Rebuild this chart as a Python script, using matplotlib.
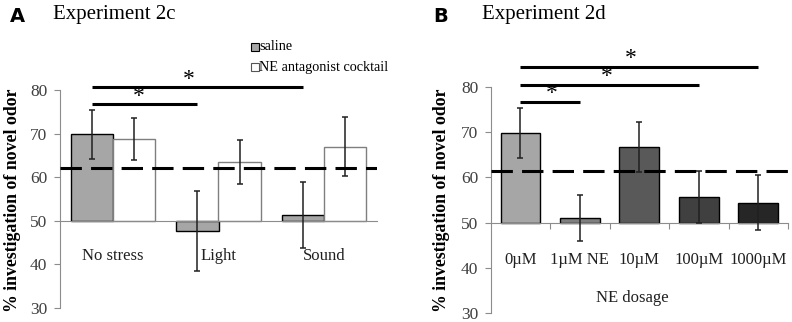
import numpy as np
import matplotlib
matplotlib.use("Agg")
import matplotlib.pyplot as plt
from matplotlib.patches import Rectangle

plt.rcParams['font.family'] = ['Liberation Serif', 'DejaVu Serif']

# Experiment 2c data
groups_a = ["No stress", "Light", "Sound"]
saline_mean = [69.8, 47.6, 51.3]
saline_err = [5.6, 9.2, 7.6]
ne_mean = [68.8, 63.5, 67.0]
ne_err = [4.8, 5.0, 6.7]
chance_a = 62.1
sig_a = [(-0.2, 1.8, 80.6), (-0.2, 0.8, 76.8)]

# Experiment 2d data
doses = ["0\u00b5M", "1\u00b5M NE", "10\u00b5M", "100\u00b5M", "1000\u00b5M"]
dose_mean = [69.8, 51.0, 66.8, 55.7, 54.4]
dose_err = [5.5, 5.1, 5.6, 5.8, 6.1]
dose_colors = ["#a6a6a6", "#7f7f7f", "#595959", "#404040", "#262626"]
chance_b = 61.4
sig_b = [(0, 4, 84.6), (0, 3, 80.4), (0, 1, 76.7)]

W, H = 792, 322
fig = plt.figure(figsize=(7.92, 3.22), dpi=100)

def px_axes(x0, x1, ytop, ybot):
    return fig.add_axes([x0 / W, 1 - ybot / H, (x1 - x0) / W, (ybot - ytop) / H])

def style_axis(ax):
    ax.set_ylim(30, 80)
    ax.set_yticks([30, 40, 50, 60, 70, 80])
    for s in ["top", "right"]:
        ax.spines[s].set_visible(False)
    ax.spines["left"].set_color("#8c8c8c")
    ax.spines["bottom"].set_color("#8c8c8c")
    ax.spines["bottom"].set_position(("data", 50))
    ax.patch.set_alpha(0)
    ax.tick_params(axis="y", direction="out", length=4, color="#8c8c8c",
                   labelsize=12.5, labelcolor="#404040", pad=5)

def draw_sig(ax, lines, stars):
    for (x0, x1, y), (sx, sy) in zip(lines, stars):
        ax.plot([x0, x1], [y, y], color="black", lw=2.2, clip_on=False,
                solid_capstyle="butt")
        ax.text(sx, sy, "*", ha="center", va="center", fontsize=17,
                clip_on=False)

# ---------- panel A ----------
ax1 = px_axes(60, 377, 90, 308)
style_axis(ax1)
x = np.arange(len(groups_a))
w = 0.4
ax1.bar(x - w / 2, np.array(saline_mean) - 50, w, bottom=50, color="#a6a6a6",
        edgecolor="black", lw=1.0, zorder=2)
ax1.bar(x + w / 2, np.array(ne_mean) - 50, w, bottom=50, color="white",
        edgecolor="#7f7f7f", lw=1.0, zorder=2)
ax1.errorbar(x - w / 2, saline_mean, yerr=saline_err, fmt="none",
             ecolor="#202020", elinewidth=1.1, capsize=2.4, capthick=1.1, zorder=3)
ax1.errorbar(x + w / 2, ne_mean, yerr=ne_err, fmt="none",
             ecolor="#202020", elinewidth=1.1, capsize=2.4, capthick=1.1, zorder=3)
ax1.axhline(chance_a, color="black", lw=2.2, ls=(0, (7, 3)), zorder=4)
ax1.set_xlim(-0.5, 2.5)
ax1.set_xticks([])
for i, g in enumerate(groups_a):
    ax1.text(i, 42.0, g, ha="center", va="center", fontsize=12, color="#202020")
draw_sig(ax1, sig_a, [(0.72, 82.3), (0.25, 78.5)])

# ---------- panel B ----------
ax2 = px_axes(490.7, 788, 87.3, 312.7)
style_axis(ax2)
xb = np.arange(len(doses))
ax2.bar(xb, np.array(dose_mean) - 50, 0.67, bottom=50, color=dose_colors,
        edgecolor="black", lw=1.0, zorder=2)
ax2.errorbar(xb, dose_mean, yerr=dose_err, fmt="none", ecolor="#202020",
             elinewidth=1.1, capsize=2.4, capthick=1.1, zorder=3)
ax2.axhline(chance_b, color="black", lw=2.2, ls=(0, (7, 3)), zorder=4)
ax2.set_xlim(-0.5, 4.5)
ax2.set_xticks(np.arange(0.5, 5, 1))
ax2.tick_params(axis="x", direction="out", length=4, color="#8c8c8c",
                labelbottom=False)
for i, d in enumerate(doses):
    ax2.text(i, 41.6, d, ha="center", va="center", fontsize=12, color="#202020")
ax2.text(1.88, 33.2, "NE dosage", ha="center", va="center", fontsize=12,
         color="#202020")
draw_sig(ax2, sig_b, [(1.85, 86.4), (1.45, 82.4), (0.52, 78.6)])

# ---------- figure texts ----------
fig.text(10 / W, 1 - 16 / H, "A", fontsize=14, fontweight="bold",
         family="DejaVu Sans", va="center")
fig.text(53 / W, 1 - 15 / H, "Experiment 2c", fontsize=15, va="center")
fig.text(433 / W, 1 - 16 / H, "B", fontsize=14, fontweight="bold",
         family="DejaVu Sans", va="center")
fig.text(482 / W, 1 - 15 / H, "Experiment 2d", fontsize=15, va="center")
for xl in (13, 442):
    fig.text(xl / W, 1 - 200 / H, "% investigation of novel odor", rotation=90,
             fontsize=12.8, fontweight="bold", ha="center", va="center")

# legend for panel A
fig.patches.append(Rectangle((250.5 / W, 1 - 51 / H), 8 / W, 8 / H,
                             transform=fig.transFigure, facecolor="#a6a6a6",
                             edgecolor="black", lw=0.8))
fig.patches.append(Rectangle((250.5 / W, 1 - 71 / H), 8 / W, 8 / H,
                             transform=fig.transFigure, facecolor="white",
                             edgecolor="#555555", lw=0.8))
fig.text(259 / W, 1 - 47 / H, "saline", fontsize=10.3, va="center")
fig.text(259 / W, 1 - 67 / H, "NE antagonist cocktail", fontsize=10.3, va="center")

fig.savefig("out.png", dpi=100)
